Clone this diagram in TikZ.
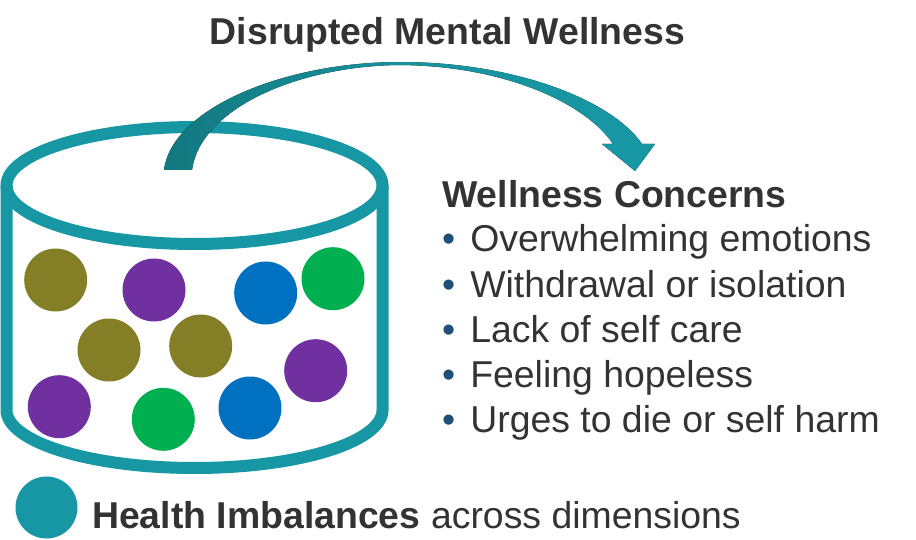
\documentclass[tikz,border=0pt]{standalone}
\usepackage{fontspec}
\setmainfont{Liberation Sans}
\usepackage{tikz}
\usepackage{xcolor}
\usetikzlibrary{
    calc,
    positioning
}
\definecolor{rimteal}{HTML}{1797A4}
\definecolor{tailteal}{HTML}{137880}
\definecolor{textgrey}{HTML}{333333}
\definecolor{dotblue}{HTML}{1F4E79}
\definecolor{ballolive}{HTML}{847F26}
\definecolor{ballpurple}{HTML}{7030A0}
\definecolor{ballblue}{HTML}{0070C0}
\definecolor{ballgreen}{HTML}{00B050}
\newcommand{\bigfont}{\fontsize{37.4}{45}\selectfont}
\newcommand{\ball}[3]{
    \node[ball, fill=#3] (#1) at (#2) {};
}
\newcommand{\concern}[3]{
    \node[concern] (#1) at (#2) {\textcolor{dotblue}{•}\hspace{15pt}#3};
}
\tikzset{
    ball/.style={circle, minimum size=63pt, inner sep=0pt},
    concern/.style={anchor=base west, inner sep=0pt, text=textgrey, font=\bigfont},
    rim/.style={draw=rimteal, line width=12pt}
}

\begin{document}
\begin{tikzpicture}[x=1pt, y=-1pt]
    \useasboundingbox (0, 0) rectangle (916, 540);
    \node[anchor=base, inner sep=0pt, text=textgrey, font=\bigfont\bfseries] (title) at (447.5, 45) {Disrupted Mental Wellness};
    \begin{scope}[shift={(0, 0)}]
        \draw[rim] (194.5, 185.5) ellipse [x radius=188pt, y radius=58.5pt];
        \draw[rim] (6.5, 185.5) -- (6.5, 410)
            arc [start angle=180, end angle=360, x radius=188pt, y radius=58pt]
            -- (382.5, 185.5);
        \ball{b1}{55.7, 280}{ballolive}
        \ball{b2}{154, 290}{ballpurple}
        \ball{b3}{265.7, 293}{ballblue}
        \ball{b4}{333, 278.7}{ballgreen}
        \ball{b5}{109, 350}{ballolive}
        \ball{b6}{200.7, 346}{ballolive}
        \ball{b7}{315.7, 370.7}{ballpurple}
        \ball{b8}{59.3, 406.7}{ballpurple}
        \ball{b9}{163.3, 419.3}{ballgreen}
        \ball{b10}{250, 408}{ballblue}
    \end{scope}
    % curved arrow over the top
    \fill[left color=tailteal, right color=rimteal, middle color=rimteal!85!tailteal]
        (164, 170) .. controls (172, 108) and (285, 62) .. (400, 62)
        .. controls (515, 62) and (612, 100) .. (642, 144)
        -- (655, 144) -- (635, 171) -- (602, 144) -- (613, 144)
        .. controls (588, 106) and (510, 66) .. (400, 65)
        .. controls (295, 66) and (200, 110) .. (192, 170) -- cycle;
    \node[anchor=base west, inner sep=0pt, text=textgrey, font=\bigfont\bfseries] (head) at (442, 208) {Wellness Concerns};
    \concern{c1}{442, 252}{Overwhelming emotions}
    \concern{c2}{442, 298}{Withdrawal or isolation}
    \concern{c3}{442, 342}{Lack of self care}
    \concern{c4}{442, 387}{Feeling hopeless}
    \concern{c5}{442, 432}{Urges to die or self harm}
    \node[circle, fill=rimteal, minimum size=62pt, inner sep=0pt] (key) at (46.5, 507.5) {};
    \node[anchor=base west, inner sep=0pt, text=textgrey, font=\bigfont] (keytext) at (92, 528) {\textbf{Health Imbalances} across dimensions};
\end{tikzpicture}
\end{document}
